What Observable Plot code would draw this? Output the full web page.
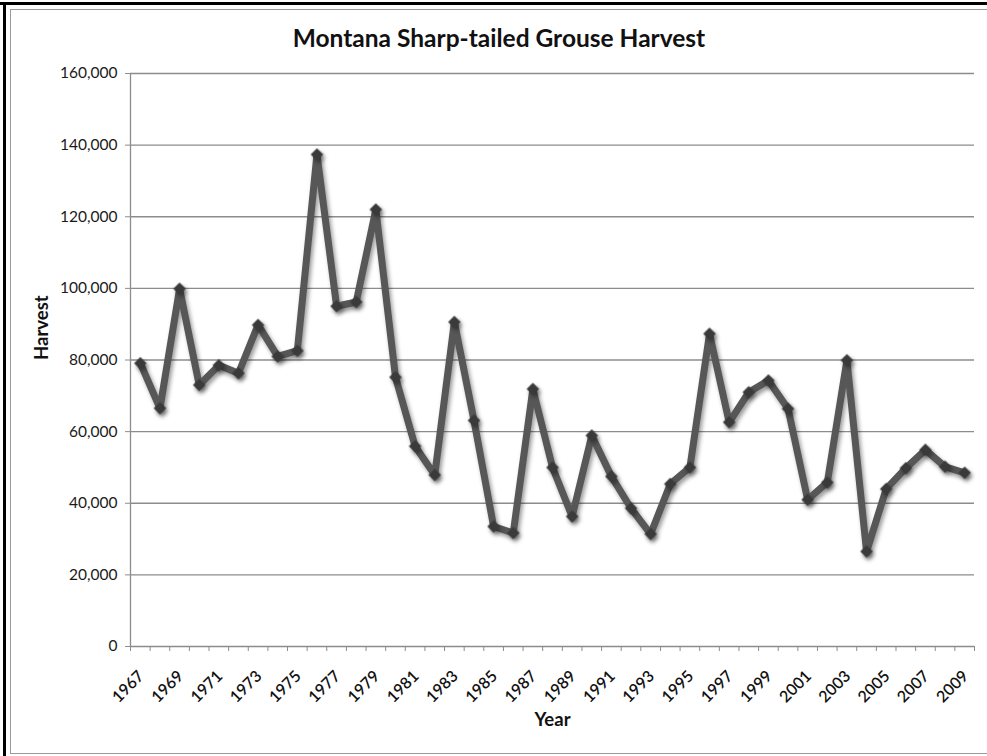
<!DOCTYPE html>
<html><head><meta charset="utf-8">
<script src="https://cdn.jsdelivr.net/npm/d3@7"></script>
<script src="https://cdn.jsdelivr.net/npm/@observablehq/plot@0.6"></script>
<style>
body{margin:0;background:#fff;}
#wrap{position:relative;width:987px;height:756px;overflow:hidden;font-family:Lato,"Open Sans",sans-serif;color:#1a1a1a;}
#blackTop{position:absolute;left:0;top:2px;width:987px;height:3px;background:#000;}
#blackLeft{position:absolute;left:3px;top:2px;width:3px;height:754px;background:#000;}
#frame{position:absolute;left:10px;top:9px;width:990px;height:743px;border:1.5px solid #9a9a9a;}
#title{position:absolute;left:11px;width:976px;top:23px;text-align:center;font-weight:700;font-size:24.5px;color:#111;}
#chart{position:absolute;left:0;top:60px;}
</style></head>
<body>
<div id="wrap">
  <div id="blackTop"></div>
  <div id="blackLeft"></div>
  <div id="frame"></div>
  <div id="title">Montana Sharp-tailed Grouse Harvest</div>
  <div id="chart"></div>
</div>
<script>
const years = [1967,1968,1969,1970,1971,1972,1973,1974,1975,1976,1977,1978,1979,1980,1981,1982,1983,1984,1985,1986,1987,1988,1989,1990,1991,1992,1993,1994,1995,1996,1997,1998,1999,2000,2001,2002,2003,2004,2005,2006,2007,2008,2009];
const harvest = [79100,66500,99900,73000,78500,76300,89800,81000,82600,137400,95000,96200,122000,75200,55900,47900,90600,63100,33500,31700,71900,50000,36300,58900,47500,38600,31400,45400,50000,87300,62600,71000,74300,66400,41000,45800,79900,26500,44000,49800,54900,50200,48500];
const yTicks = [0,20000,40000,60000,80000,100000,120000,140000,160000];
const xLabelYears = [1967,1969,1971,1973,1975,1977,1979,1981,1983,1985,1987,1989,1991,1993,1995,1997,1999,2001,2003,2005,2007,2009];
const titleText = "Montana Sharp-tailed Grouse Harvest";
const yLabel = "Harvest";
const xLabel = "Year";

const data = years.map((year, i) => ({year, harvest: harvest[i]}));
const boundaries = years.map(y => y - 0.5).concat([years[years.length - 1] + 0.5]);
const grid = "#8c8c8c";

const chart = Plot.plot({
  width: 987,
  height: 696,
  marginLeft: 130,
  marginRight: 13,
  marginTop: 13,
  marginBottom: 110,
  style: {fontFamily: "Lato, 'Open Sans', sans-serif", color: "#1a1a1a", background: "transparent"},
  x: {domain: [years[0] - 0.5, years[years.length - 1] + 0.5], axis: null},
  y: {domain: [yTicks[0], yTicks[yTicks.length - 1]], axis: null},
  marks: [
    Plot.ruleY(yTicks, {stroke: grid, strokeWidth: 1.3}),
    Plot.ruleX([boundaries[0]], {stroke: grid, strokeWidth: 1.3}),
    Plot.axisY({ticks: yTicks, tickSize: 5, tickPadding: 8, tickFormat: d3.format(","), label: null, fontSize: 15.5, stroke: grid, fill: "#1a1a1a"}),
    Plot.axisX({ticks: boundaries, tickSize: 5, tickFormat: () => "", label: null, stroke: grid}),
    Plot.text(xLabelYears, {x: d => d, text: d => String(d), frameAnchor: "bottom", dy: 27, dx: 1, rotate: -45, textAnchor: "end", lineAnchor: "middle", fontSize: 16, fontWeight: 600, fill: "#111"}),
    Plot.line(data, {x: "year", y: "harvest", stroke: "#575757", strokeWidth: 7, strokeLinejoin: "round"}),
    Plot.dot(data, {x: "year", y: "harvest", symbol: "square", rotate: 45, r: 5, fill: "#3a3a3a", stroke: "none"}),
    Plot.text([yLabel], {text: d => d, frameAnchor: "left", dx: -88, rotate: -90, fontWeight: "bold", fontSize: 18.5, fill: "#111"}),
    Plot.text([xLabel], {text: d => d, frameAnchor: "bottom", dy: 79, fontWeight: "bold", fontSize: 18.5, fill: "#111"})
  ]
});
document.getElementById("title").textContent = titleText;
chart.querySelectorAll('g[aria-label="line"], g[aria-label="dot"]').forEach(g => {
  g.style.filter = "drop-shadow(2px 3px 2px rgba(0,0,0,0.4))";
});
document.getElementById("chart").appendChild(chart);
</script>
</body></html>
